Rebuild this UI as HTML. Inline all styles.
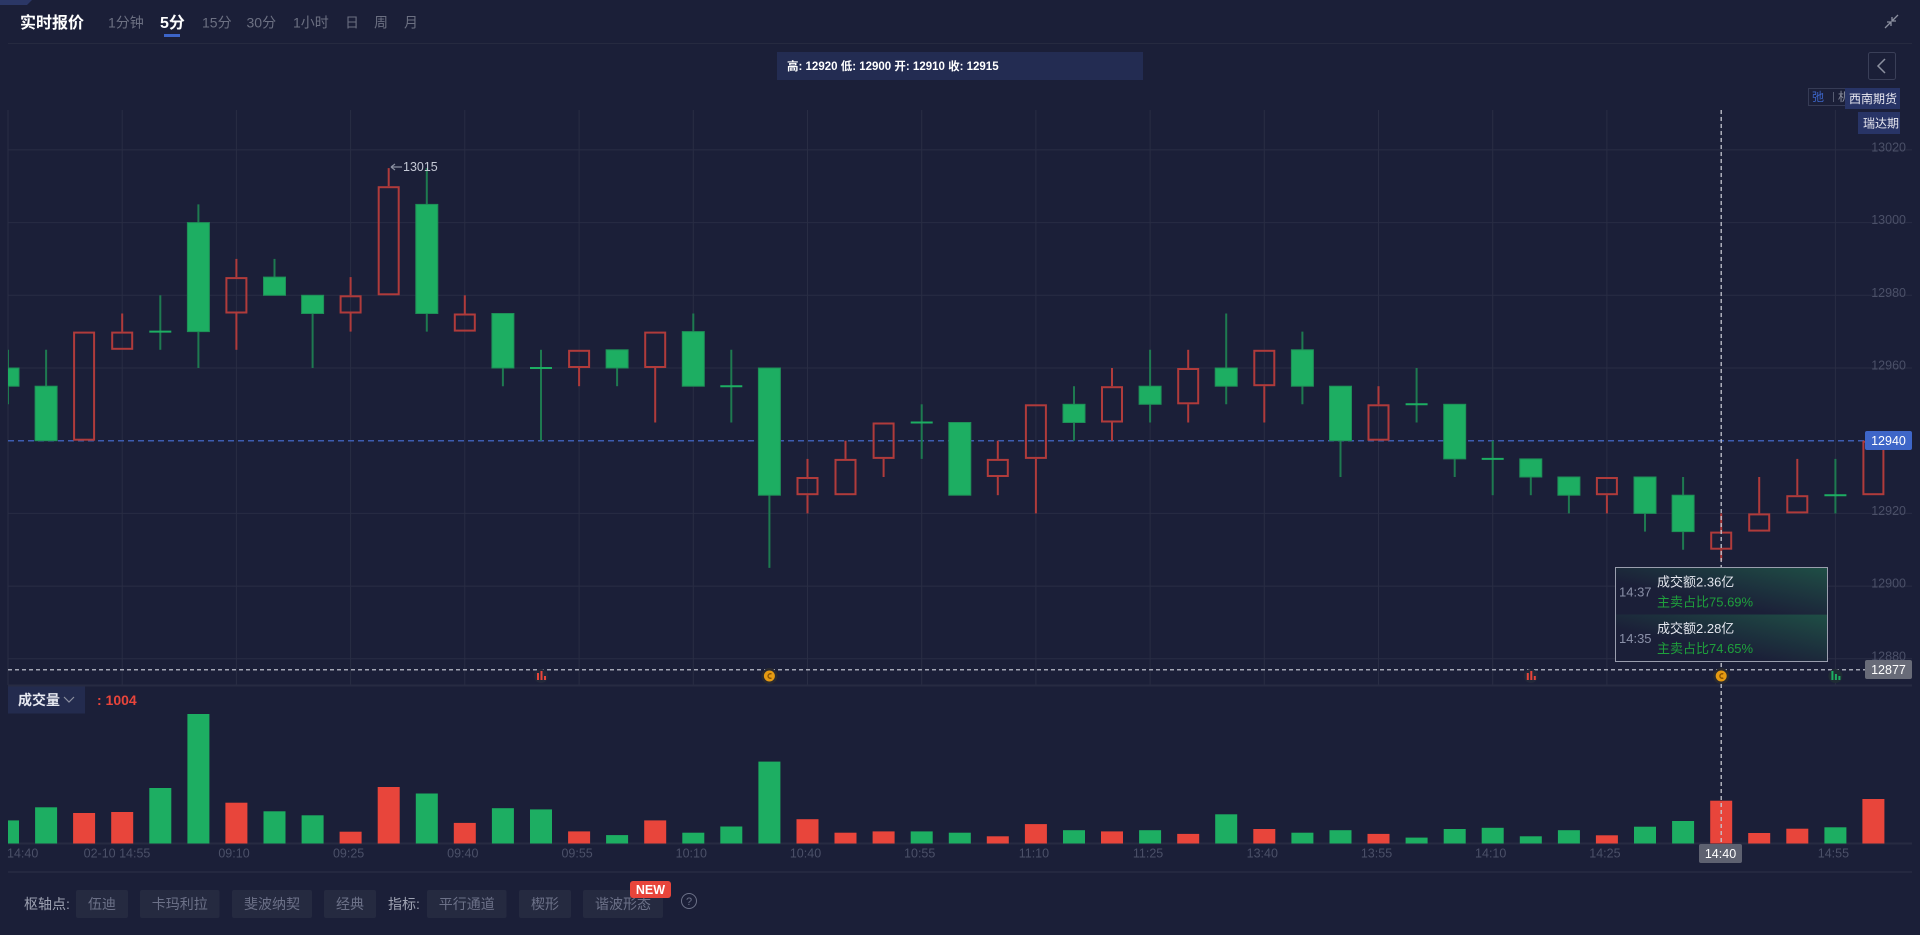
<!DOCTYPE html>
<html><head><meta charset="utf-8"><style>
html,body{margin:0;padding:0;background:#1b1f38;width:1920px;height:935px;overflow:hidden}
svg{display:block}
text{font-family:"Liberation Sans","Noto Sans CJK SC",sans-serif}
</style></head><body>
<svg width="1920" height="935" viewBox="0 0 1920 935" xmlns="http://www.w3.org/2000/svg">
<defs>
<clipPath id="cp"><rect x="8" y="100" width="1904" height="760"/></clipPath>
<linearGradient id="tg" x1="0" y1="1" x2="1" y2="0"><stop offset="0.35" stop-color="#1f4f45" stop-opacity="0"/><stop offset="1" stop-color="#1f5146" stop-opacity="0.95"/></linearGradient>
</defs>
<rect width="1920" height="935" fill="#1b1f38"/>
<!-- header -->
<polygon points="0,0 32,0 27,5 0,5" fill="#2b3766"/>
<text x="20" y="28" font-size="16" font-weight="bold" fill="#ffffff">实时报价</text>
<g font-size="14" fill="#6c7082">
<text x="108" y="27.5">1分钟</text>
<text x="202" y="27.5">15分</text>
<text x="246.5" y="27.5">30分</text>
<text x="293" y="27.5">1小时</text>
<text x="345" y="27.5">日</text>
<text x="374" y="27.5">周</text>
<text x="404" y="27.5">月</text>
</g>
<text x="160" y="28" font-size="16" font-weight="bold" fill="#ffffff">5分</text>
<rect x="164" y="34" width="16" height="3" fill="#3c64c8"/>
<line x1="8" y1="43.5" x2="1912" y2="43.5" stroke="#262a40" stroke-width="1"/>
<g stroke="#8c90a0" stroke-width="1.3" fill="none">
<path d="M1898,15 L1892,21 M1892,17 L1892,21 L1896,21"/>
<path d="M1885,28 L1891,22 M1887,22 L1891,22 L1891,26"/>
</g>
<rect x="777" y="52" width="366" height="28" fill="#232c52"/>
<text x="787" y="70" font-size="11.5" font-weight="bold" fill="#ffffff">高: 12920 低: 12900 开: 12910 收: 12915</text>
<rect x="1868.5" y="52.5" width="27" height="27" rx="2" fill="none" stroke="#3a3f58"/>
<polyline points="1885,59 1878,66 1885,73" fill="none" stroke="#8c90a0" stroke-width="1.5"/>
<rect x="1808.5" y="88.5" width="37" height="17" fill="none" stroke="#363b55"/>
<text x="1812" y="101" font-size="12" fill="#3c64c8">弛</text>
<line x1="1833.5" y1="92" x2="1833.5" y2="102" stroke="#555a70"/>
<text x="1838" y="101" font-size="12" fill="#8c90a0">机</text>
<rect x="1845" y="88" width="55" height="21" fill="#283466"/>
<text x="1849" y="103" font-size="12" fill="#e8e8f0">西南期货</text>
<rect x="1858" y="112" width="42" height="22" fill="#283466"/>
<text x="1863" y="127.5" font-size="12" fill="#e8e8f0">瑞达期</text>

<!-- grid -->
<g stroke="#292d44" stroke-width="1">
<line x1="8" y1="149.9" x2="1912" y2="149.9"/>
<line x1="8" y1="222.6" x2="1912" y2="222.6"/>
<line x1="8" y1="295.3" x2="1912" y2="295.3"/>
<line x1="8" y1="368" x2="1912" y2="368"/>
<line x1="8" y1="513.4" x2="1912" y2="513.4"/>
<line x1="8" y1="586.1" x2="1912" y2="586.1"/>
<line x1="8" y1="658.8" x2="1912" y2="658.8"/>
<line x1="8" y1="110" x2="8" y2="685"/>
<line x1="122.2" y1="110" x2="122.2" y2="685"/>
<line x1="236.4" y1="110" x2="236.4" y2="685"/>
<line x1="350.6" y1="110" x2="350.6" y2="685"/>
<line x1="464.8" y1="110" x2="464.8" y2="685"/>
<line x1="579.1" y1="110" x2="579.1" y2="685"/>
<line x1="693.3" y1="110" x2="693.3" y2="685"/>
<line x1="807.5" y1="110" x2="807.5" y2="685"/>
<line x1="921.7" y1="110" x2="921.7" y2="685"/>
<line x1="1035.9" y1="110" x2="1035.9" y2="685"/>
<line x1="1150.1" y1="110" x2="1150.1" y2="685"/>
<line x1="1264.3" y1="110" x2="1264.3" y2="685"/>
<line x1="1378.5" y1="110" x2="1378.5" y2="685"/>
<line x1="1492.7" y1="110" x2="1492.7" y2="685"/>
<line x1="1606.9" y1="110" x2="1606.9" y2="685"/>
<line x1="1721.2" y1="110" x2="1721.2" y2="685"/>
<line x1="1835.4" y1="110" x2="1835.4" y2="685"/>
</g>
<line x1="8" y1="685.5" x2="1912" y2="685.5" stroke="#272b42" stroke-width="2"/>
<line x1="8" y1="843.5" x2="1912" y2="843.5" stroke="#272b42" stroke-width="2"/>
<line x1="8" y1="872" x2="1912" y2="872" stroke="#2e3248" stroke-width="1"/>

<!-- price labels -->
<g font-size="12.5" fill="#4b5068" text-anchor="end">
<text x="1906" y="151.5">13020</text>
<text x="1906" y="224.2">13000</text>
<text x="1906" y="296.9">12980</text>
<text x="1906" y="369.6">12960</text>
<text x="1906" y="515">12920</text>
<text x="1906" y="587.7">12900</text>
<text x="1906" y="660.4">12880</text>
</g>

<!-- 12940 dashed line -->
<line x1="8" y1="440.7" x2="1865" y2="440.7" stroke="#3d5cb0" stroke-width="1.5" stroke-dasharray="6 4"/>

<!-- candles -->
<g clip-path="url(#cp)">
<!-- green wicks -->
<g stroke="#1e7a50" stroke-width="2">
<line x1="8" y1="349.8" x2="8" y2="404.3"/>
<line x1="46.1" y1="349.8" x2="46.1" y2="440.7"/>
<line x1="160.3" y1="295.3" x2="160.3" y2="349.8"/>
<line x1="198.4" y1="204.4" x2="198.4" y2="368"/>
<line x1="274.5" y1="258.9" x2="274.5" y2="295.3"/>
<line x1="312.6" y1="295.3" x2="312.6" y2="368"/>
<line x1="426.8" y1="168.1" x2="426.8" y2="331.6"/>
<line x1="502.9" y1="313.5" x2="502.9" y2="386.2"/>
<line x1="541" y1="349.8" x2="541" y2="440.7"/>
<line x1="617.1" y1="349.8" x2="617.1" y2="386.2"/>
<line x1="693.3" y1="313.5" x2="693.3" y2="386.2"/>
<line x1="731.3" y1="349.8" x2="731.3" y2="422.5"/>
<line x1="769.4" y1="368" x2="769.4" y2="567.9"/>
<line x1="921.7" y1="404.3" x2="921.7" y2="458.9"/>
<line x1="1074" y1="386.2" x2="1074" y2="440.7"/>
<line x1="1150.1" y1="349.8" x2="1150.1" y2="422.5"/>
<line x1="1226.2" y1="313.5" x2="1226.2" y2="404.3"/>
<line x1="1302.4" y1="331.6" x2="1302.4" y2="404.3"/>
<line x1="1340.5" y1="386.2" x2="1340.5" y2="477"/>
<line x1="1416.6" y1="368" x2="1416.6" y2="422.5"/>
<line x1="1454.7" y1="404.3" x2="1454.7" y2="477"/>
<line x1="1492.7" y1="440.7" x2="1492.7" y2="495.2"/>
<line x1="1530.8" y1="458.9" x2="1530.8" y2="495.2"/>
<line x1="1568.9" y1="477" x2="1568.9" y2="513.4"/>
<line x1="1645" y1="477" x2="1645" y2="531.6"/>
<line x1="1683.1" y1="477" x2="1683.1" y2="549.7"/>
<line x1="1835.4" y1="458.9" x2="1835.4" y2="513.4"/>
</g>
<!-- green bodies -->
<g fill="#1dae62" stroke="#1f8f58" stroke-width="1">
<rect x="-3" y="368" width="22" height="18.2"/>
<rect x="35.1" y="386.2" width="22" height="54.5"/>
<rect x="187.4" y="222.6" width="22" height="109"/>
<rect x="263.5" y="277.1" width="22" height="18.2"/>
<rect x="301.6" y="295.3" width="22" height="18.2"/>
<rect x="415.8" y="204.4" width="22" height="109.1"/>
<rect x="491.9" y="313.5" width="22" height="54.5"/>
<rect x="606.1" y="349.8" width="22" height="18.2"/>
<rect x="682.3" y="331.6" width="22" height="54.6"/>
<rect x="758.4" y="368" width="22" height="127.2"/>
<rect x="948.8" y="422.5" width="22" height="72.7"/>
<rect x="1063" y="404.3" width="22" height="18.2"/>
<rect x="1139.1" y="386.2" width="22" height="18.1"/>
<rect x="1215.2" y="368" width="22" height="18.2"/>
<rect x="1291.4" y="349.8" width="22" height="36.4"/>
<rect x="1329.5" y="386.2" width="22" height="54.5"/>
<rect x="1443.7" y="404.3" width="22" height="54.6"/>
<rect x="1519.8" y="458.9" width="22" height="18.1"/>
<rect x="1557.9" y="477" width="22" height="18.2"/>
<rect x="1634" y="477" width="22" height="36.4"/>
<rect x="1672.1" y="495.2" width="22" height="36.4"/>
</g>
<!-- doji bars -->
<g stroke="#1dae62" stroke-width="2">
<line x1="149.3" y1="331.6" x2="171.3" y2="331.6"/>
<line x1="530" y1="368" x2="552" y2="368"/>
<line x1="720.3" y1="386.2" x2="742.3" y2="386.2"/>
<line x1="910.7" y1="422.5" x2="932.7" y2="422.5"/>
<line x1="1405.6" y1="404.3" x2="1427.6" y2="404.3"/>
<line x1="1481.7" y1="458.9" x2="1503.7" y2="458.9"/>
<line x1="1824.4" y1="495.2" x2="1846.4" y2="495.2"/>
</g>
<!-- red wicks -->
<g stroke="#b03b3b" stroke-width="2">
<line x1="122.2" y1="313.5" x2="122.2" y2="331.6"/>
<line x1="236.4" y1="258.9" x2="236.4" y2="277.1"/>
<line x1="236.4" y1="313.5" x2="236.4" y2="349.8"/>
<line x1="350.6" y1="277.1" x2="350.6" y2="295.3"/>
<line x1="350.6" y1="313.5" x2="350.6" y2="331.6"/>
<line x1="388.7" y1="168.1" x2="388.7" y2="186.2"/>
<line x1="464.8" y1="295.3" x2="464.8" y2="313.5"/>
<line x1="579.1" y1="368" x2="579.1" y2="386.2"/>
<line x1="655.2" y1="368" x2="655.2" y2="422.5"/>
<line x1="807.5" y1="458.9" x2="807.5" y2="477"/>
<line x1="807.5" y1="495.2" x2="807.5" y2="513.4"/>
<line x1="845.5" y1="440.7" x2="845.5" y2="458.9"/>
<line x1="883.6" y1="458.9" x2="883.6" y2="477"/>
<line x1="997.8" y1="440.7" x2="997.8" y2="458.9"/>
<line x1="997.8" y1="477" x2="997.8" y2="495.2"/>
<line x1="1035.9" y1="458.9" x2="1035.9" y2="513.4"/>
<line x1="1112" y1="368" x2="1112" y2="386.2"/>
<line x1="1112" y1="422.5" x2="1112" y2="440.7"/>
<line x1="1188.2" y1="349.8" x2="1188.2" y2="368"/>
<line x1="1188.2" y1="404.3" x2="1188.2" y2="422.5"/>
<line x1="1264.3" y1="386.2" x2="1264.3" y2="422.5"/>
<line x1="1378.5" y1="386.2" x2="1378.5" y2="404.3"/>
<line x1="1606.9" y1="495.2" x2="1606.9" y2="513.4"/>
<line x1="1721.2" y1="513.4" x2="1721.2" y2="531.6"/>
<line x1="1721.2" y1="549.7" x2="1721.2" y2="560.6"/>
<line x1="1759.2" y1="477" x2="1759.2" y2="513.4"/>
<line x1="1797.3" y1="458.9" x2="1797.3" y2="495.2"/>
</g>
<!-- red hollow bodies -->
<g fill="none" stroke="#b03b3b" stroke-width="2">
<rect x="74.1" y="332.6" width="20" height="107.1"/>
<rect x="112.2" y="332.6" width="20" height="16.2"/>
<rect x="226.4" y="278.1" width="20" height="34.4"/>
<rect x="340.6" y="296.3" width="20" height="16.2"/>
<rect x="378.7" y="187.2" width="20" height="107.1"/>
<rect x="454.8" y="314.5" width="20" height="16.1"/>
<rect x="569.1" y="350.8" width="20" height="16.2"/>
<rect x="645.2" y="332.6" width="20" height="34.4"/>
<rect x="797.5" y="478" width="20" height="16.2"/>
<rect x="835.5" y="459.9" width="20" height="34.3"/>
<rect x="873.6" y="423.5" width="20" height="34.4"/>
<rect x="987.8" y="459.9" width="20" height="16.1"/>
<rect x="1025.9" y="405.3" width="20" height="52.6"/>
<rect x="1102" y="387.2" width="20" height="34.3"/>
<rect x="1178.2" y="369" width="20" height="34.3"/>
<rect x="1254.3" y="350.8" width="20" height="34.4"/>
<rect x="1368.5" y="405.3" width="20" height="34.4"/>
<rect x="1596.9" y="478" width="20" height="16.2"/>
<rect x="1711.2" y="532.6" width="20" height="16.1"/>
<rect x="1749.2" y="514.4" width="20" height="16.2"/>
<rect x="1787.3" y="496.2" width="20" height="16.2"/>
<rect x="1863.4" y="441.7" width="20" height="52.5"/>
</g>

<!-- volume bars -->
<g fill="#1dae62">
<rect x="-3" y="820.4" width="22" height="23.1"/>
<rect x="35.1" y="807.3" width="22" height="36.2"/>
<rect x="149.3" y="788" width="22" height="55.5"/>
<rect x="187.4" y="714" width="22" height="129.5"/>
<rect x="263.5" y="811.3" width="22" height="32.2"/>
<rect x="301.6" y="815.3" width="22" height="28.2"/>
<rect x="415.8" y="793.5" width="22" height="50"/>
<rect x="491.9" y="808.2" width="22" height="35.3"/>
<rect x="530" y="809.4" width="22" height="34.1"/>
<rect x="606.1" y="835.1" width="22" height="8.4"/>
<rect x="682.3" y="832.7" width="22" height="10.8"/>
<rect x="720.3" y="826.5" width="22" height="17"/>
<rect x="758.4" y="761.6" width="22" height="81.9"/>
<rect x="910.7" y="831.4" width="22" height="12.1"/>
<rect x="948.8" y="832.7" width="22" height="10.8"/>
<rect x="1063" y="830.2" width="22" height="13.3"/>
<rect x="1139.1" y="830.2" width="22" height="13.3"/>
<rect x="1215.2" y="814.3" width="22" height="29.2"/>
<rect x="1291.4" y="832.7" width="22" height="10.8"/>
<rect x="1329.5" y="830.2" width="22" height="13.3"/>
<rect x="1405.6" y="837.6" width="22" height="5.9"/>
<rect x="1443.7" y="829" width="22" height="14.5"/>
<rect x="1481.7" y="827.8" width="22" height="15.7"/>
<rect x="1519.8" y="836.3" width="22" height="7.2"/>
<rect x="1557.9" y="830.2" width="22" height="13.3"/>
<rect x="1634" y="826.7" width="22" height="16.8"/>
<rect x="1672.1" y="821" width="22" height="22.5"/>
<rect x="1824.4" y="827.3" width="22" height="16.2"/>
</g>
<g fill="#e8453b">
<rect x="73.1" y="813" width="22" height="30.5"/>
<rect x="111.2" y="812" width="22" height="31.5"/>
<rect x="225.4" y="802.7" width="22" height="40.8"/>
<rect x="339.6" y="831.7" width="22" height="11.8"/>
<rect x="377.7" y="787" width="22" height="56.5"/>
<rect x="453.8" y="822.9" width="22" height="20.6"/>
<rect x="568.1" y="831.4" width="22" height="12.1"/>
<rect x="644.2" y="820.4" width="22" height="23.1"/>
<rect x="796.5" y="819.2" width="22" height="24.3"/>
<rect x="834.5" y="832.7" width="22" height="10.8"/>
<rect x="872.6" y="831.4" width="22" height="12.1"/>
<rect x="986.8" y="836.3" width="22" height="7.2"/>
<rect x="1024.9" y="824.1" width="22" height="19.4"/>
<rect x="1101" y="831.4" width="22" height="12.1"/>
<rect x="1177.2" y="833.9" width="22" height="9.6"/>
<rect x="1253.3" y="829" width="22" height="14.5"/>
<rect x="1367.5" y="833.9" width="22" height="9.6"/>
<rect x="1595.9" y="835.3" width="22" height="8.2"/>
<rect x="1710.2" y="800.7" width="22" height="42.8"/>
<rect x="1748.2" y="833" width="22" height="10.5"/>
<rect x="1786.3" y="828.7" width="22" height="14.8"/>
<rect x="1862.4" y="799" width="22" height="44.5"/>
</g>
</g>

<!-- 13015 annotation -->
<path d="M391,167 L402,167 M391,167 L395,164 M391,167 L395,170" stroke="#8a8fa0" stroke-width="1.2" fill="none"/>
<text x="403" y="171" font-size="12.5" fill="#c5c9d6">13015</text>

<!-- 12877 dashed line -->
<line x1="8" y1="669.7" x2="1865" y2="669.7" stroke="#a3a6b4" stroke-width="1.5" stroke-dasharray="4 3"/>

<!-- markers -->
<circle cx="541" cy="676" r="7" fill="#22283a"/>
<g fill="#e8453b"><rect x="537" y="673" width="2" height="7"/><rect x="540.5" y="671" width="2" height="9"/><rect x="544" y="676" width="2" height="4"/></g>
<circle cx="769.4" cy="676" r="8" fill="#2a2a30"/>
<circle cx="769.4" cy="676" r="5.5" fill="#e59a12"/>
<path d="M771.5,674 A2.3,2.3 0 1 0 771.5,678" stroke="#8a5200" stroke-width="1.3" fill="none"/>
<circle cx="1530.8" cy="676" r="7" fill="#22283a"/>
<g fill="#e8453b"><rect x="1526.8" y="673" width="2" height="7"/><rect x="1530.3" y="671" width="2" height="9"/><rect x="1533.8" y="676" width="2" height="4"/></g>
<circle cx="1835.4" cy="676" r="7" fill="#1f2c34"/>
<g fill="#1dae62"><rect x="1831.4" y="671" width="2" height="9"/><rect x="1834.9" y="674" width="2" height="6"/><rect x="1838.4" y="676" width="2" height="4"/></g>

<!-- crosshair -->
<line x1="1721.2" y1="110" x2="1721.2" y2="844" stroke="#c5c7d0" stroke-width="1.3" stroke-dasharray="4 3"/>
<circle cx="1721.2" cy="676" r="8" fill="#2a2a30"/>
<circle cx="1721.2" cy="676" r="5.5" fill="#e59a12"/>
<path d="M1723.3,674 A2.3,2.3 0 1 0 1723.3,678" stroke="#8a5200" stroke-width="1.3" fill="none"/>

<!-- axis label boxes -->
<rect x="1865" y="431" width="47" height="19" rx="2" fill="#3e66c8"/>
<text x="1888.5" y="445" font-size="12.5" fill="#ffffff" text-anchor="middle">12940</text>
<rect x="1865" y="660" width="47" height="19" rx="2" fill="#686b78"/>
<text x="1888.5" y="674" font-size="12.5" fill="#ffffff" text-anchor="middle">12877</text>

<!-- tooltip -->
<rect x="1615.5" y="567.5" width="212" height="94" fill="#1b1f38" stroke="#9a9eae" stroke-width="1"/>
<rect x="1616" y="568" width="211" height="46" fill="url(#tg)"/>
<rect x="1616" y="614.5" width="211" height="46.5" fill="url(#tg)"/>
<text x="1619" y="596.5" font-size="13" fill="#8a90a8">14:37</text>
<text x="1657" y="586.5" font-size="13" fill="#e4e6ee">成交额2.36亿</text>
<text x="1657" y="606.5" font-size="13" fill="#1fa03c">主卖占比75.69%</text>
<text x="1619" y="643" font-size="13" fill="#8a90a8">14:35</text>
<text x="1657" y="633" font-size="13" fill="#e4e6ee">成交额2.28亿</text>
<text x="1657" y="653" font-size="13" fill="#1fa03c">主卖占比74.65%</text>

<!-- volume label -->
<rect x="8" y="686.5" width="77" height="27" fill="#232b4e"/>
<text x="18" y="705" font-size="14" font-weight="bold" fill="#e6e8f0">成交量</text>
<polyline points="64,697 69,702 74,697" fill="none" stroke="#8c90a0" stroke-width="1.2"/>
<text x="97" y="705" font-size="14" font-weight="bold" fill="#e8453b">: 1004</text>

<!-- time labels -->
<g font-size="12.5" fill="#4b5068" text-anchor="middle">
<text x="7" y="857.5" text-anchor="start">14:40</text>
<text x="117" y="857.5">02-10 14:55</text>
<text x="234" y="857.5">09:10</text>
<text x="348.6" y="857.5">09:25</text>
<text x="462.8" y="857.5">09:40</text>
<text x="577.1" y="857.5">09:55</text>
<text x="691.3" y="857.5">10:10</text>
<text x="805.5" y="857.5">10:40</text>
<text x="919.7" y="857.5">10:55</text>
<text x="1033.9" y="857.5">11:10</text>
<text x="1148.1" y="857.5">11:25</text>
<text x="1262.3" y="857.5">13:40</text>
<text x="1376.5" y="857.5">13:55</text>
<text x="1490.7" y="857.5">14:10</text>
<text x="1604.9" y="857.5">14:25</text>
<text x="1833.4" y="857.5">14:55</text>
</g>
<rect x="1699" y="844" width="43" height="19" rx="2" fill="#5e6170"/>
<text x="1720.5" y="858" font-size="12.5" fill="#ffffff" text-anchor="middle">14:40</text>

<!-- bottom toolbar -->
<g font-size="14">
<text x="24" y="909" fill="#9ea2b2">枢轴点:</text>
<text x="388" y="909" fill="#9ea2b2">指标:</text>
<g fill="#252a40">
<rect x="76" y="890" width="52" height="28" rx="2"/>
<rect x="140" y="890" width="79.5" height="28" rx="2"/>
<rect x="232" y="890" width="80" height="28" rx="2"/>
<rect x="324" y="890" width="52" height="28" rx="2"/>
<rect x="427" y="890" width="79.5" height="28" rx="2"/>
<rect x="519" y="890" width="52" height="28" rx="2"/>
<rect x="583" y="890" width="80" height="28" rx="2"/>
</g>
<g fill="#6c7188" text-anchor="middle">
<text x="102" y="909">伍迪</text>
<text x="179.75" y="909">卡玛利拉</text>
<text x="272" y="909">斐波纳契</text>
<text x="350" y="909">经典</text>
<text x="466.75" y="909">平行通道</text>
<text x="545" y="909">楔形</text>
<text x="623" y="909">谐波形态</text>
</g>
</g>
<rect x="630" y="881" width="41" height="17" rx="3" fill="#e8453b"/>
<text x="650.5" y="894" font-size="12.5" font-weight="bold" fill="#ffffff" text-anchor="middle">NEW</text>
<circle cx="689" cy="901" r="7.5" fill="none" stroke="#6c7188" stroke-width="1"/>
<text x="689" y="905" font-size="11" fill="#6c7188" text-anchor="middle">?</text>
</svg>
</body></html>
